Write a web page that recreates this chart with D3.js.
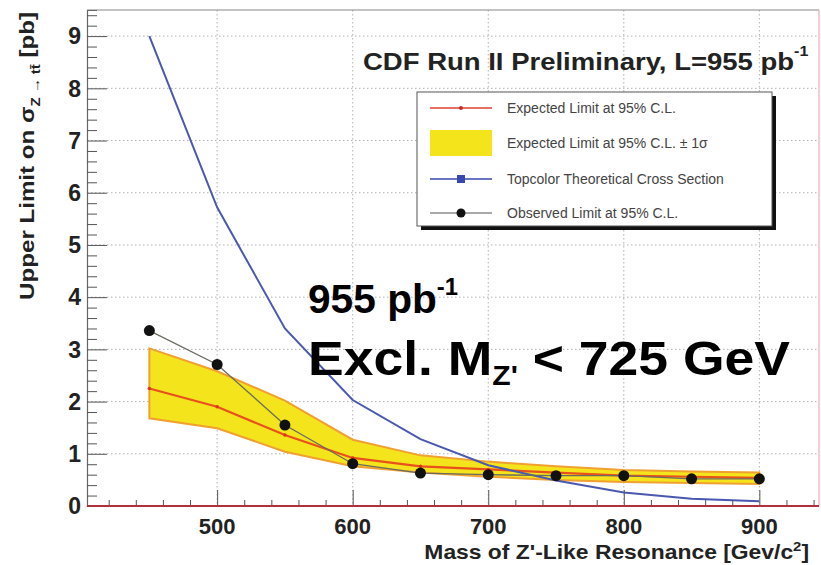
<!DOCTYPE html>
<html>
<head>
<meta charset="utf-8">
<script src="https://cdn.jsdelivr.net/npm/d3@7"></script>
<style>
  html, body { margin: 0; padding: 0; background: #fff; }
  svg { display: block; }
  text { font-family: "Liberation Sans", Arial, sans-serif; }
</style>
</head>
<body>
<svg id="chart" width="821" height="565"></svg>
<script>
// Z' -> ttbar cross-section limits vs. resonance mass (CDF, 955 pb^-1)
const masses        = [450, 500, 550, 600, 650, 700, 750, 800, 850, 900];
const expected      = [2.25, 1.90, 1.36, 0.92, 0.76, 0.70, 0.64, 0.58, 0.56, 0.54];
const bandUpper     = [3.02, 2.58, 2.02, 1.27, 0.97, 0.85, 0.76, 0.69, 0.66, 0.64];
const bandLower     = [1.68, 1.49, 1.04, 0.76, 0.64, 0.56, 0.50, 0.46, 0.44, 0.42];
const topcolor      = [9.0, 5.72, 3.40, 2.03, 1.28, 0.78, 0.49, 0.26, 0.14, 0.09];
const observed      = [3.36, 2.71, 1.55, 0.81, 0.63, 0.60, 0.58, 0.58, 0.52, 0.52];

const xTicks = [500, 600, 700, 800, 900];
const yTicks = [0, 1, 2, 3, 4, 5, 6, 7, 8, 9];

const legendLabels = [
  "Expected Limit at 95% C.L.",
  "Expected Limit at 95% C.L. \u00b1 1\u03c3",
  "Topcolor Theoretical Cross Section",
  "Observed Limit at 95% C.L."
];

const svg = d3.select("#chart");

const x = d3.scaleLinear().domain([404, 944]).range([87, 819]);
const y = d3.scaleLinear().domain([0, 9.5]).range([506, 10]);

const rows = masses.map((m, i) => ({
  m, exp: expected[i], hi: bandUpper[i], lo: bandLower[i],
  th: topcolor[i], obs: observed[i]
}));

// stretch a text horizontally about a pivot so that it spans the given width
function fitWidth(sel, width, pivot) {
  const bb = sel.node().getBBox();
  const s = width / bb.width;
  const px = pivot === "end" ? bb.x + bb.width : bb.x;
  sel.attr("transform", `translate(${px},0) scale(${s},1) translate(${-px},0)`);
}

// grid (dotted, major ticks only)
const grid = svg.append("g").attr("stroke", "#b0b0b0").attr("stroke-dasharray", "1.5,2.5").attr("stroke-width", 1);
grid.selectAll(".gx").data(xTicks).join("line")
  .attr("x1", d => x(d)).attr("x2", d => x(d)).attr("y1", y(9.5)).attr("y2", y(0));
grid.selectAll(".gy").data(yTicks.filter(d => d > 0)).join("line")
  .attr("x1", x(404)).attr("x2", x(944)).attr("y1", d => y(d)).attr("y2", d => y(d));

// frame
svg.append("line").attr("x1", x(404)).attr("x2", x(944)).attr("y1", y(9.5)).attr("y2", y(9.5))
  .attr("stroke", "#888").attr("stroke-width", 1.2);
svg.append("line").attr("x1", x(944)).attr("x2", x(944)).attr("y1", y(9.5)).attr("y2", y(0))
  .attr("stroke", "#e8b0b8").attr("stroke-width", 1.2);

// ±1σ band
const band = d3.area().x(d => x(d.m)).y0(d => y(d.lo)).y1(d => y(d.hi));
svg.append("path").datum(rows).attr("d", band)
  .attr("fill", "#f4e41c").attr("stroke", "#f0a030").attr("stroke-width", 2);

// expected limit
const lineOf = key => d3.line().x(d => x(d.m)).y(d => y(d[key]));
svg.append("path").datum(rows).attr("d", lineOf("exp"))
  .attr("fill", "none").attr("stroke", "#e8501c").attr("stroke-width", 2.2);
svg.selectAll(".expDot").data(rows).join("circle")
  .attr("cx", d => x(d.m)).attr("cy", d => y(d.exp)).attr("r", 1.8).attr("fill", "#d63a1a");

// topcolor theory
svg.append("path").datum(rows).attr("d", lineOf("th"))
  .attr("fill", "none").attr("stroke", "#4a58b0").attr("stroke-width", 2);

// observed limit
svg.append("path").datum(rows).attr("d", lineOf("obs"))
  .attr("fill", "none").attr("stroke", "#6a6a60").attr("stroke-width", 1.3);
svg.selectAll(".obsDot").data(rows).join("circle")
  .attr("cx", d => x(d.m)).attr("cy", d => y(d.obs)).attr("r", 5.5).attr("fill", "#111");

// axes (ticks pointing inward)
const yAxis = d3.axisRight(y).tickValues(d3.range(0, 9.5, 0.2)).tickSize(10).tickFormat("");
const gy = svg.append("g").attr("transform", `translate(${x(404)},0)`).call(yAxis);
gy.selectAll(".tick line").attr("stroke", "#555")
  .attr("x2", d => Math.abs(d - Math.round(d)) < 1e-6 ? 20 : 10);
gy.select(".domain").attr("stroke", "#666").attr("stroke-width", 1.2);

const xAxis = d3.axisTop(x).tickValues(d3.range(420, 944, 20)).tickSize(6).tickFormat("");
const gx = svg.append("g").attr("transform", `translate(0,${y(0)})`).call(xAxis);
gx.selectAll(".tick line").attr("stroke", "#555")
  .attr("y2", d => d % 100 === 0 ? -16 : -6);
gx.select(".domain").remove();
svg.append("line").attr("x1", x(404)).attr("x2", x(944)).attr("y1", y(0)).attr("y2", y(0))
  .attr("stroke", "#b03040").attr("stroke-width", 2);

// tick labels
svg.selectAll(".ylab").data(yTicks).join("text")
  .attr("x", 81).attr("y", d => y(d)).attr("dy", "0.36em")
  .attr("text-anchor", "end").attr("font-size", 23).attr("font-weight", "bold").attr("fill", "#222")
  .text(d => d);
svg.selectAll(".xlab").data(xTicks).join("text")
  .attr("x", d => x(d)).attr("y", 534)
  .attr("text-anchor", "middle").attr("font-size", 22).attr("font-weight", "bold").attr("fill", "#222")
  .text(d => d);

// axis titles
const xt = svg.append("text").attr("x", 809).attr("y", 559).attr("text-anchor", "end")
  .attr("font-size", 20).attr("font-weight", "bold").attr("fill", "#222");
xt.append("tspan").text("Mass of Z'-Like Resonance [Gev/c");
xt.append("tspan").attr("dy", -8).attr("font-size", 13).text("2");
xt.append("tspan").attr("dy", 8).text("]");
fitWidth(xt, 385, "end");

const yt = svg.append("text").attr("text-anchor", "end")
  .attr("font-size", 21).attr("font-weight", "bold").attr("fill", "#222");
yt.append("tspan").text("Upper Limit on \u03c3");
yt.append("tspan").attr("dy", 6).attr("font-size", 13).text("Z \u2192 tt\u0304");
yt.append("tspan").attr("dy", -6).text(" [pb]");
{
  const len = yt.node().getBBox().width;
  yt.attr("transform", `translate(34,12) rotate(-90) scale(${288 / len},1)`);
}

// title
const title = svg.append("text").attr("x", 363).attr("y", 70)
  .attr("font-size", 24).attr("font-weight", "bold").attr("fill", "#222");
title.append("tspan").text("CDF Run II Preliminary, L=955 pb");
title.append("tspan").attr("dy", -14).attr("font-size", 14).text("-1");
fitWidth(title, 446, "start");

// legend
const lg = svg.append("g");
lg.append("rect").attr("x", 421).attr("y", 96).attr("width", 355).attr("height", 134).attr("fill", "#111");
lg.append("rect").attr("x", 417).attr("y", 92).attr("width", 355).attr("height", 134)
  .attr("fill", "#fff").attr("stroke", "#555").attr("stroke-width", 1);
const rowY = [108, 143, 179, 213];
const sx0 = 430, sx1 = 492, sxm = 461;
// expected
lg.append("line").attr("x1", sx0).attr("x2", sx1).attr("y1", rowY[0]).attr("y2", rowY[0]).attr("stroke", "#e0402c").attr("stroke-width", 1.5);
lg.append("circle").attr("cx", sxm).attr("cy", rowY[0]).attr("r", 2).attr("fill", "#c03020");
// band
lg.append("rect").attr("x", sx0).attr("y", rowY[1] - 13).attr("width", sx1 - sx0).attr("height", 26).attr("fill", "#f4e41c");
// theory
lg.append("line").attr("x1", sx0).attr("x2", sx1).attr("y1", rowY[2]).attr("y2", rowY[2]).attr("stroke", "#3848b0").attr("stroke-width", 1.5);
lg.append("rect").attr("x", sxm - 4).attr("y", rowY[2] - 4).attr("width", 8).attr("height", 8).attr("fill", "#3848b0");
// observed
lg.append("line").attr("x1", sx0).attr("x2", sx1).attr("y1", rowY[3]).attr("y2", rowY[3]).attr("stroke", "#555").attr("stroke-width", 1.2);
lg.append("circle").attr("cx", sxm).attr("cy", rowY[3]).attr("r", 4.5).attr("fill", "#111");
lg.selectAll(".lt").data(legendLabels).join("text")
  .attr("x", 507).attr("y", (d, i) => rowY[i]).attr("dy", "0.35em")
  .attr("font-size", 14).attr("fill", "#444").text(d => d);

// annotation
const ann = svg.append("g").attr("font-family", "'Noto Sans', 'Liberation Sans', sans-serif").attr("font-weight", "bold").attr("fill", "#000");
const a1 = ann.append("text").attr("x", 308).attr("y", 313).attr("font-size", 41);
a1.append("tspan").text("955 pb");
a1.append("tspan").attr("dy", -18).attr("font-size", 24).text("-1");
fitWidth(a1, 150, "start");
const a2 = ann.append("text").attr("x", 308).attr("y", 375).attr("font-size", 48);
a2.append("tspan").text("Excl. M");
a2.append("tspan").attr("dy", 10).attr("font-size", 27).text("Z'");
a2.append("tspan").attr("dy", -10).text(" < 725 GeV");
fitWidth(a2, 482, "start");
</script>
</body>
</html>
